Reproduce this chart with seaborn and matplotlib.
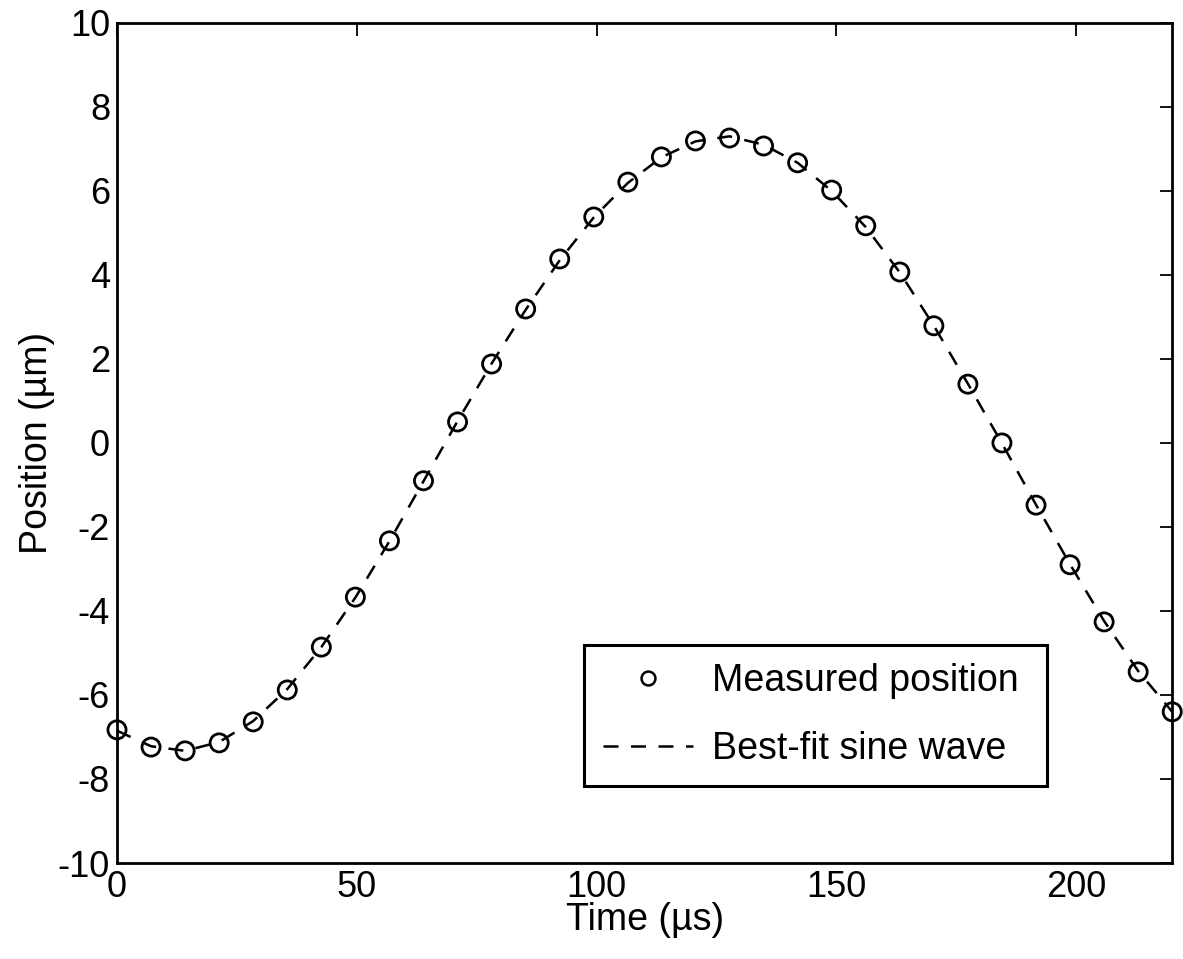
import matplotlib
matplotlib.use("Agg")
import matplotlib.pyplot as plt
import seaborn as sns
import pandas as pd
from matplotlib.lines import Line2D

# ---- data ----
time_us = [0.0, 7.1, 14.2, 21.3, 28.4, 35.5, 42.6, 49.7, 56.8, 63.9, 71.0,
           78.1, 85.2, 92.3, 99.4, 106.5, 113.5, 120.6, 127.7, 134.8, 141.9,
           149.0, 156.1, 163.2, 170.3, 177.4, 184.5, 191.6, 198.7, 205.8,
           212.9, 220.0]
measured_um = [-6.83, -7.24, -7.33, -7.14, -6.64, -5.88, -4.86, -3.67, -2.33,
               -0.90, 0.50, 1.88, 3.19, 4.38, 5.38, 6.21, 6.81, 7.19, 7.26,
               7.07, 6.67, 6.02, 5.17, 4.07, 2.79, 1.40, 0.00, -1.48, -2.90,
               -4.26, -5.45, -6.40]
fit_um = [-6.85, -7.22, -7.33, -7.12, -6.62, -5.86, -4.86, -3.68, -2.34,
          -0.91, 0.52, 1.89, 3.17, 4.35, 5.37, 6.19, 6.80, 7.18, 7.30,
          7.10, 6.67, 6.00, 5.14, 4.06, 2.79, 1.41, -0.01, -1.47, -2.89,
          -4.24, -5.43, -6.40]
label_measured = "Measured position"
label_fit = "Best-fit sine wave"
xlabel = "Time (\u00b5s)"
ylabel = "Position (\u00b5m)"
xticks = [0, 50, 100, 150, 200]
yticks = [-10, -8, -6, -4, -2, 0, 2, 4, 6, 8, 10]

df = pd.DataFrame({"t": time_us, "meas": measured_um, "fit": fit_um})

sns.set_theme(style="white")
plt.rcParams["font.family"] = ["Liberation Sans", "DejaVu Sans"]
plt.rcParams["axes.unicode_minus"] = False
plt.rcParams["text.color"] = "black"
plt.rcParams["axes.labelcolor"] = "black"

fig = plt.figure(figsize=(11.83, 9.59), dpi=100)
ax = fig.add_axes([0.0989, 0.1001, 0.892, 0.876])

sns.lineplot(data=df, x="t", y="fit", ax=ax, color="black", linewidth=1.8,
             dashes=False, zorder=2)
ax.lines[-1].set_dashes([6, 5])
sns.scatterplot(data=df, x="t", y="meas", ax=ax, marker="o", s=170,
                facecolor="none", edgecolor="black", linewidth=2.0,
                zorder=3, clip_on=False)

ax.set_xlim(0, 220)
ax.set_ylim(-10, 10)
ax.set_xticks(xticks)
ax.set_yticks(yticks)
ax.set_xlabel(xlabel, fontsize=27, labelpad=-2, color="black")
ax.set_ylabel(ylabel, fontsize=27, labelpad=2, color="black")
ax.tick_params(direction="in", length=9, width=1.3, top=True, right=True,
               labelsize=26, pad=5, colors="black")
for s in ax.spines.values():
    s.set_color("black")
    s.set_linewidth(2.0)

handles = [
    Line2D([], [], marker="o", linestyle="none", markerfacecolor="none",
           markeredgecolor="black", markersize=10, markeredgewidth=1.8),
    Line2D([], [], color="black", linewidth=1.8, dashes=[6, 5]),
]
leg = ax.legend(handles, [label_measured, label_fit], loc="upper left",
                bbox_to_anchor=(0.443, 0.081, 0.438, 0.179), mode="expand",
                fontsize=27, frameon=True, fancybox=False, framealpha=1,
                handlelength=2.4, borderpad=0.5, labelspacing=0.85,
                handletextpad=0.5, borderaxespad=0)
leg.get_frame().set_edgecolor("black")
leg.get_frame().set_linewidth(2.2)
for txt in leg.get_texts():
    txt.set_color("black")

fig.savefig("out.png", dpi=100)
